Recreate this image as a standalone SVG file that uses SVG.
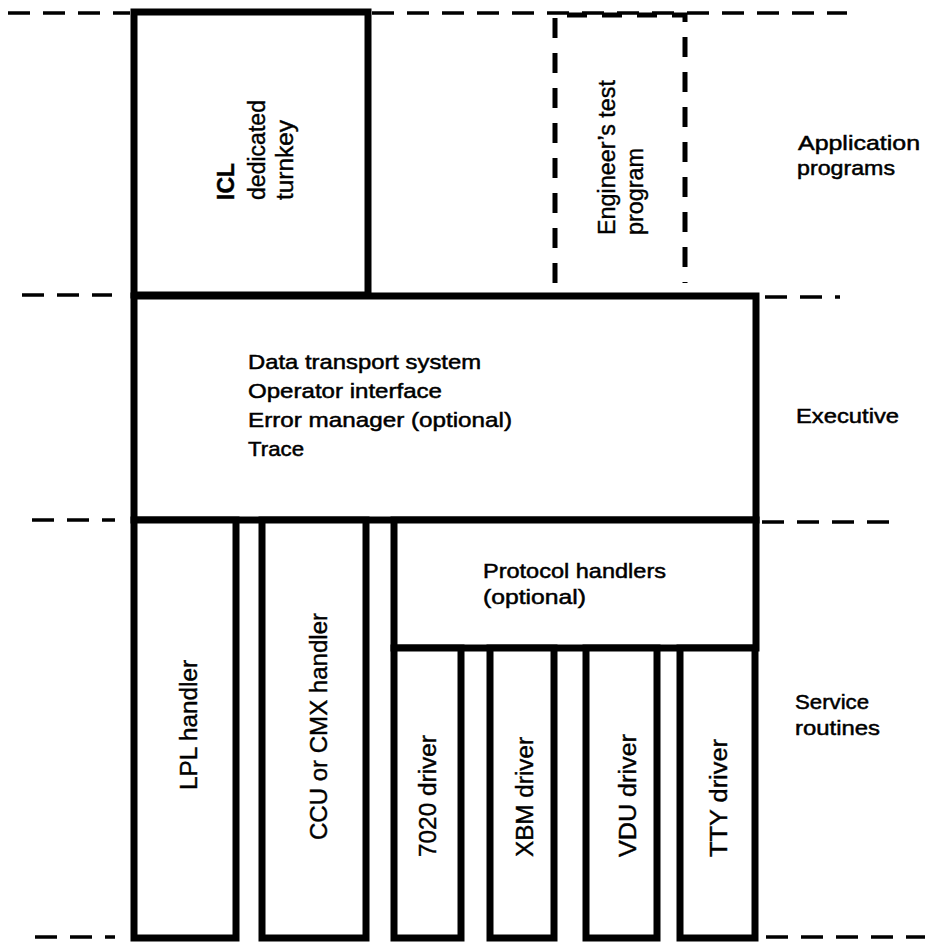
<svg xmlns="http://www.w3.org/2000/svg" width="925" height="943" viewBox="0 0 925 943">
<style>
.box{fill:#fff;stroke:#000;stroke-width:7;stroke-linejoin:miter}
.dash{fill:none;stroke:#000;stroke-width:3.5;stroke-dasharray:22 13}
.dbox{fill:none;stroke:#000;stroke-width:5;stroke-dasharray:20 15}
.h{font-family:"Liberation Sans",Arial,Helvetica,sans-serif;font-size:21px;fill:#000;stroke:#000;stroke-width:0.5}
.v{font-family:"Liberation Sans",Arial,Helvetica,sans-serif;font-size:23px;fill:#000;stroke:#000;stroke-width:0.4}
</style>
<rect width="925" height="943" fill="#fff"/>
<g id="layer-lines">
<line class="dash" x1="8" y1="13" x2="130" y2="13"/>
<line class="dash" x1="372" y1="13" x2="847" y2="13"/>
<line class="dash" x1="22" y1="295" x2="112" y2="295"/>
<line class="dash" x1="765" y1="297" x2="840" y2="297"/>
<line class="dash" x1="32" y1="520" x2="115" y2="520"/>
<line class="dash" x1="762" y1="522" x2="898" y2="522"/>
<line class="dash" x1="35" y1="937" x2="115" y2="937"/>
<line class="dash" x1="766" y1="937" x2="925" y2="937"/>
</g>
<g id="icl">
<rect class="box" x="134" y="12" width="234" height="283"/>
<text class="v" font-weight="bold" transform="translate(234,200) rotate(-90)">ICL</text>
<text class="v" transform="translate(265,200) rotate(-90)" textLength="100" lengthAdjust="spacingAndGlyphs">dedicated</text>
<text class="v" transform="translate(293,200) rotate(-90)" textLength="80" lengthAdjust="spacingAndGlyphs">turnkey</text>
</g>
<g id="engineer">
<path class="dbox" d="M555,283 V15 H685 V283"/>
<text class="v" transform="translate(615,235) rotate(-90)" textLength="155" lengthAdjust="spacingAndGlyphs">Engineer’s test</text>
<text class="v" transform="translate(643,235) rotate(-90)" textLength="87" lengthAdjust="spacingAndGlyphs">program</text>
</g>
<g id="executive">
<rect class="box" x="134" y="296" width="622" height="224"/>
<text class="h" x="248" y="369" textLength="233" lengthAdjust="spacingAndGlyphs">Data transport system</text>
<text class="h" x="248" y="398" textLength="194" lengthAdjust="spacingAndGlyphs">Operator interface</text>
<text class="h" x="248" y="427" textLength="264" lengthAdjust="spacingAndGlyphs">Error manager (optional)</text>
<text class="h" x="248" y="456" textLength="56" lengthAdjust="spacingAndGlyphs">Trace</text>
</g>
<g id="lpl">
<rect class="box" x="134" y="520" width="102" height="418"/>
<text class="v" transform="translate(197,790) rotate(-90)" textLength="130" lengthAdjust="spacingAndGlyphs">LPL handler</text>
</g>
<g id="ccu">
<rect class="box" x="262" y="520" width="104" height="418"/>
<text class="v" transform="translate(327,840) rotate(-90)" textLength="227" lengthAdjust="spacingAndGlyphs">CCU or CMX handler</text>
</g>
<g id="protocol">
<rect class="box" x="394" y="520" width="362" height="128"/>
<text class="h" x="483" y="578" textLength="183" lengthAdjust="spacingAndGlyphs">Protocol handlers</text>
<text class="h" x="483" y="604" textLength="103" lengthAdjust="spacingAndGlyphs">(optional)</text>
</g>
<g id="d7020">
<rect class="box" x="394" y="648" width="67" height="290"/>
<text class="v" transform="translate(436,857) rotate(-90)" textLength="122" lengthAdjust="spacingAndGlyphs">7020 driver</text>
</g>
<g id="xbm">
<rect class="box" x="490" y="648" width="64" height="290"/>
<text class="v" transform="translate(533,857) rotate(-90)" textLength="120" lengthAdjust="spacingAndGlyphs">XBM driver</text>
</g>
<g id="vdu">
<rect class="box" x="586" y="648" width="71" height="290"/>
<text class="v" transform="translate(636,857) rotate(-90)" textLength="123" lengthAdjust="spacingAndGlyphs">VDU driver</text>
</g>
<g id="tty">
<rect class="box" x="680" y="648" width="75" height="290"/>
<text class="v" transform="translate(727,857) rotate(-90)" textLength="118" lengthAdjust="spacingAndGlyphs">TTY driver</text>
</g>
<g id="layer-labels">
<text class="h" x="798" y="150" textLength="122" lengthAdjust="spacingAndGlyphs">Application</text>
<text class="h" x="797" y="175" textLength="98" lengthAdjust="spacingAndGlyphs">programs</text>
<text class="h" x="796" y="423" textLength="103" lengthAdjust="spacingAndGlyphs">Executive</text>
<text class="h" x="795" y="709" textLength="74" lengthAdjust="spacingAndGlyphs">Service</text>
<text class="h" x="795" y="735" textLength="85" lengthAdjust="spacingAndGlyphs">routines</text>
</g>
</svg>
